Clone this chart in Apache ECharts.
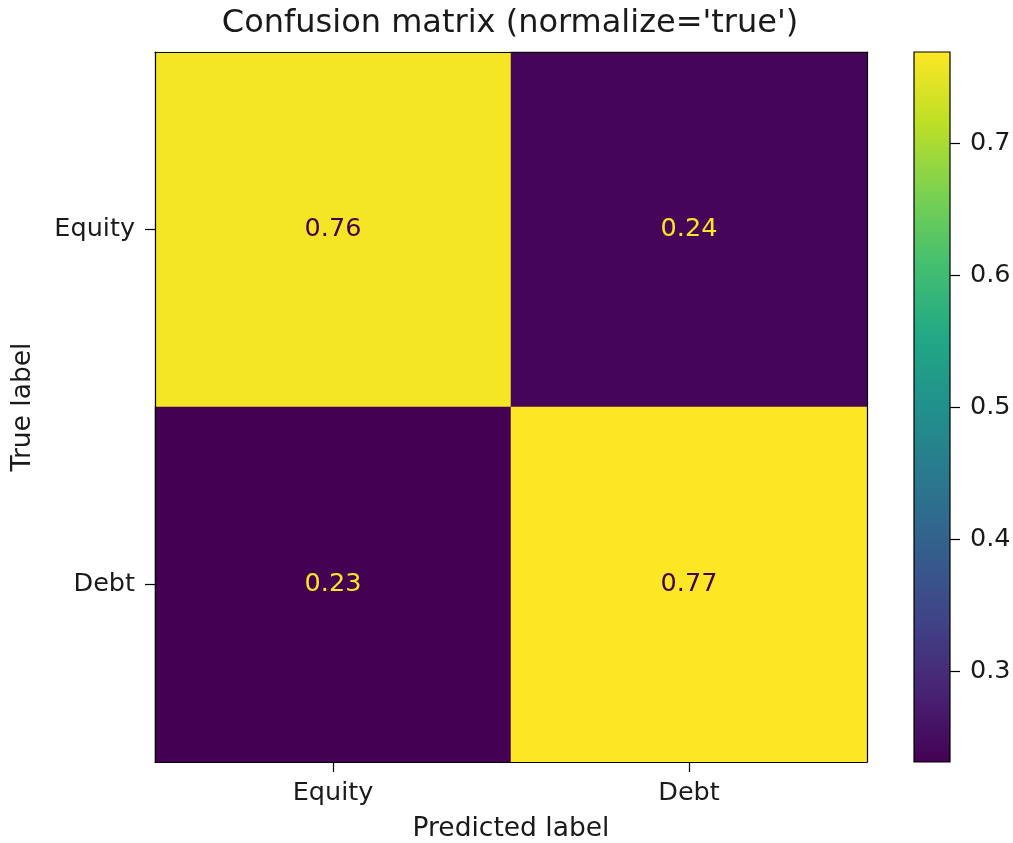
<!DOCTYPE html>
<html>
<head>
<meta charset="utf-8">
<script src="https://cdn.jsdelivr.net/npm/echarts@6/dist/echarts.min.js"></script>
<style>
  html, body { margin: 0; padding: 0; background: #fff; }
  #chart { width: 1013px; height: 843px; }
</style>
</head>
<body>
<div id="chart"></div>
<script>
// confusion matrix, rows = true label, cols = predicted label
const labels = ['Equity', 'Debt']
const matrix = [
  [0.762, 0.238],
  [0.231, 0.769]
]
const cbMin = 0.231
const cbMax = 0.769
const cbTicks = [0.3, 0.4, 0.5, 0.6, 0.7]

const viridis = ['#440154', '#482374', '#404387', '#345f8d', '#2a788e', '#21918c',
  '#22a884', '#44bf70', '#7ad151', '#bddf26', '#fde725']

const font = 'DejaVu Sans'
const txt = '#1a1a1a'
const thresh = (cbMin + cbMax) / 2

let cells = []
matrix.forEach((row, i) => {
  row.forEach((v, j) => {
    cells.push({
      value: [j, i, v],
      label: { color: v >= thresh ? viridis[0] : viridis[viridis.length - 1] }
    })
  })
})

let myChart = echarts.init(document.getElementById('chart'))

let option = {
  animation: false,
  backgroundColor: '#fff',
  textStyle: { fontFamily: font },
  title: {
    text: "Confusion matrix (normalize='true')",
    left: 505,
    textAlign: 'center',
    top: 3,
    textStyle: { fontFamily: font, fontSize: 32, fontWeight: 'normal', color: txt }
  },
  grid: [
    { left: 155, top: 52, width: 712, height: 710, outerBoundsMode: 'none', containLabel: false },
    { left: 914, top: 52, width: 36, height: 710, outerBoundsMode: 'none', containLabel: false }
  ],
  xAxis: [
    {
      type: 'category', gridIndex: 0, data: labels, z: 10,
      name: 'Predicted label', nameLocation: 'middle', nameGap: 54,
      nameTextStyle: { fontFamily: font, fontSize: 26.5, color: txt },
      axisLine: { lineStyle: { color: '#000', width: 1.2 } },
      axisTick: { show: true, alignWithLabel: true, length: 10, lineStyle: { color: '#000', width: 1.2 } },
      axisLabel: { fontFamily: font, fontSize: 25.5, color: txt, margin: 18 },
      splitLine: { show: false }
    },
    {
      type: 'category', gridIndex: 0, data: labels, position: 'top', z: 10,
      axisLine: { lineStyle: { color: '#000', width: 1.2 } },
      axisTick: { show: false }, axisLabel: { show: false }
    },
    {
      type: 'category', gridIndex: 1, data: [''], show: false
    }
  ],
  yAxis: [
    {
      type: 'category', gridIndex: 0, data: labels, inverse: true, z: 10,
      name: 'True label', nameLocation: 'middle', nameGap: 118, nameRotate: 90,
      nameTextStyle: { fontFamily: font, fontSize: 26.5, color: txt },
      axisLine: { lineStyle: { color: '#000', width: 1.2 } },
      axisTick: { show: true, alignWithLabel: true, length: 10, lineStyle: { color: '#000', width: 1.2 } },
      axisLabel: { fontFamily: font, fontSize: 25.5, color: txt, margin: 20 },
      splitLine: { show: false }
    },
    {
      type: 'category', gridIndex: 0, data: labels, inverse: true, position: 'right', z: 10,
      axisLine: { lineStyle: { color: '#000', width: 1.2 } },
      axisTick: { show: false }, axisLabel: { show: false }
    },
    {
      type: 'value', gridIndex: 1, position: 'right', min: cbMin, max: cbMax,
      axisLine: { show: false },
      axisTick: { show: true, length: 10, customValues: cbTicks, lineStyle: { color: '#000', width: 1.2 } },
      axisLabel: { fontFamily: font, fontSize: 25.5, color: txt, margin: 20, customValues: cbTicks,
        formatter: v => v.toFixed(1) },
      splitLine: { show: false }
    }
  ],
  visualMap: {
    type: 'continuous',
    show: false,
    min: cbMin,
    max: cbMax,
    dimension: 2,
    seriesIndex: 0,
    inRange: { color: viridis }
  },
  series: [
    {
      type: 'heatmap',
      xAxisIndex: 0,
      yAxisIndex: 0,
      data: cells,
      label: {
        show: true,
        fontFamily: font,
        fontSize: 25.5,
        formatter: p => p.value[2].toFixed(2)
      },
      itemStyle: { borderWidth: 0 },
      emphasis: { disabled: true }
    },
    {
      type: 'custom',
      xAxisIndex: 2,
      yAxisIndex: 2,
      encode: { x: 0, y: [1, 2] },
      data: [[0, cbMin, cbMax]],
      renderItem: function (params, api) {
        let top = api.coord([0, api.value(2)])
        let bottom = api.coord([0, api.value(1)])
        let w = api.size([1, 0])[0]
        // top of the bar is the high end (yellow)
        let stops = viridis.map((c, i) => ({ offset: 1 - i / (viridis.length - 1), color: c })).reverse()
        return {
          type: 'rect',
          shape: { x: top[0] - w / 2, y: top[1], width: w, height: bottom[1] - top[1] },
          style: {
            fill: new echarts.graphic.LinearGradient(0, 0, 0, 1, stops),
            stroke: '#000',
            lineWidth: 1.2
          }
        }
      }
    }
  ]
}
myChart.setOption(option)
</script>
</body>
</html>
